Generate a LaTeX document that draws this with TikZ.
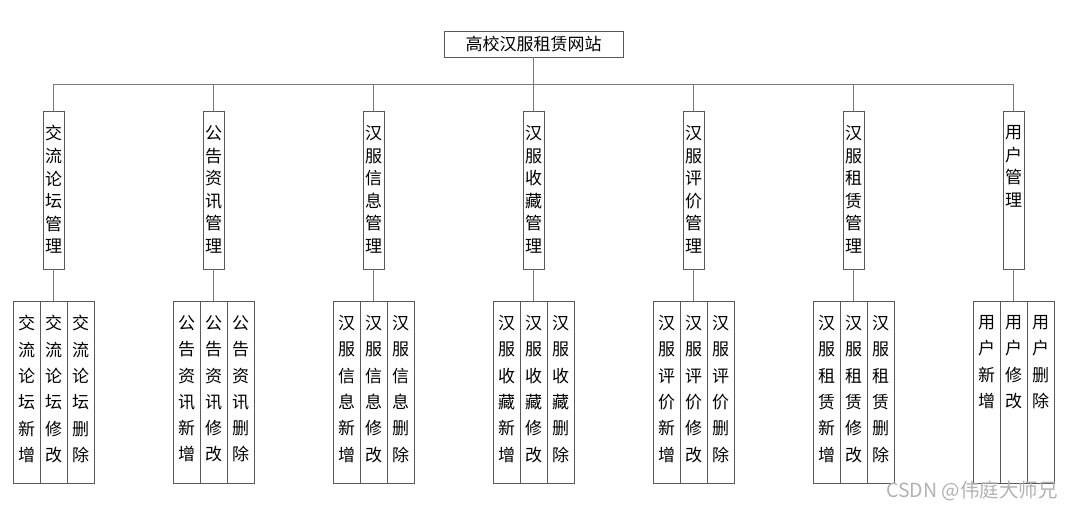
\documentclass[tikz,border=0pt]{standalone}
\usepackage{fontspec}
\setmainfont{Noto Sans CJK SC}
\newcommand\stackM[1]{\parbox[c][158pt][t]{21pt}{\centering\fontsize{17}{22.6}\selectfont\vspace*{14.5pt}#1}}
\newcommand\stackL[1]{\parbox[c][182pt][t]{27pt}{\centering\fontsize{17}{26.3}\selectfont\vspace*{14.5pt}#1}}
\definecolor{boxc}{HTML}{5A5A5A}
\definecolor{linec}{HTML}{7A7A7A}
\begin{document}
\begin{tikzpicture}[x=1pt,y=-1pt,
  box/.style={draw=boxc, line width=0.8pt, inner sep=0pt, fill=white},
  conn/.style={draw=linec, line width=0.8pt},
  rootbox/.style={draw=boxc, line width=0.8pt, inner sep=0pt, minimum width=179pt, minimum height=26pt, font=\fontsize{17}{17}\selectfont}]
\useasboundingbox (0,0) rectangle (1074,509);
\node[rootbox] (root) at (533.5,44) {高校汉服租赁网站};
\coordinate (bus) at (533.5,84);
\foreach \i/\t in {0/{交\\流\\论\\坛}, 1/{公\\告\\资\\讯}, 2/{汉\\服\\信\\息}, 3/{汉\\服\\收\\藏}, 4/{汉\\服\\评\\价}, 5/{汉\\服\\租\\赁}, 6/{用\\户}} {
  \pgfmathsetmacro\cx{53.5+160*\i}
  \node[box] (m\i) at (\cx,190) {\stackM{\t\\管\\理}};
  \node[box] (a\i) at (\cx-27,392) {\stackL{\t\\新\\增}};
  \node[box] (b\i) at (\cx,392) {\stackL{\t\\修\\改}};
  \node[box] (c\i) at (\cx+27,392) {\stackL{\t\\删\\除}};
  \draw[conn] (m\i.south) -- (b\i.north);
  \draw[conn] (m\i.north) -- (m\i.north |- bus);
}
\draw[conn] (root.south) -- (bus);
\draw[conn] (m0.north |- bus) -- (m6.north |- bus);
\node[font=\fontsize{19.5}{19.5}\selectfont, text=gray!60, anchor=east, inner sep=0pt] (wm) at (1058,491) {CSDN @伟庭大师兄};
\end{tikzpicture}
\end{document}
